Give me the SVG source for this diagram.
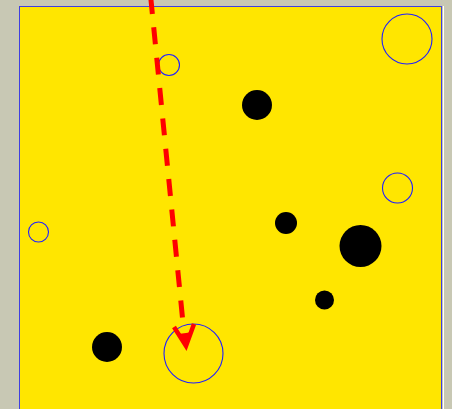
<svg xmlns="http://www.w3.org/2000/svg" width="452" height="409" viewBox="0 0 452 409">
<style>
.hole{fill:none;stroke:#2020ff;stroke-width:1.1}
.blob{fill:#000}
.conn{fill:none;stroke:#ff0000;stroke-width:5}
</style>
<rect x="0" y="0" width="452" height="409" fill="#c8c8b4"/>
<rect x="19.5" y="6.5" width="422" height="410" fill="#ffe600" stroke="#4040e0" stroke-width="1"/>
<line x1="443.5" y1="6" x2="443.5" y2="409" stroke="#ffffff" stroke-width="1"/>
<g id="n1"><circle class="hole" cx="169" cy="65" r="10.5"/></g>
<g id="n2"><circle class="hole" cx="407" cy="39" r="25"/></g>
<g id="n3"><circle class="blob" cx="257" cy="105" r="15"/></g>
<g id="n4"><circle class="hole" cx="397.5" cy="188" r="15"/></g>
<g id="n5"><circle class="blob" cx="286" cy="223" r="11"/></g>
<g id="n6"><circle class="blob" cx="360.5" cy="246" r="21"/></g>
<g id="n7"><circle class="blob" cx="324.5" cy="300" r="9.5"/></g>
<g id="n8"><circle class="hole" cx="38.5" cy="232" r="10"/></g>
<g id="n9"><circle class="blob" cx="107" cy="347" r="15"/></g>
<g id="n10"><circle class="hole" cx="193.5" cy="353.5" r="29.5"/></g>
<g id="connectors">
<line class="conn" x1="150.7" y1="-3" x2="183.3" y2="326" stroke-dasharray="17,13.5"/>
<path d="M174,327 L186,346 L194,324" fill="none" stroke="#ff0000" stroke-width="4.5" stroke-linejoin="miter"/>
<path d="M178,334 L186,333 L192,332 L186,348 Z" fill="#ff0000"/>
</g>
</svg>
